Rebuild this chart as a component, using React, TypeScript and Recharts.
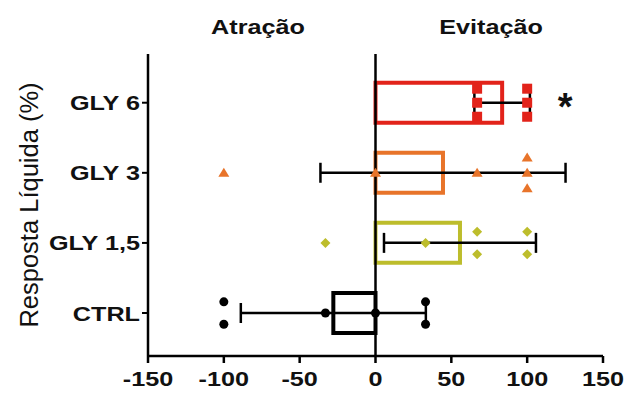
import React from "react";
import {
  ComposedChart,
  Bar,
  Cell,
  ErrorBar,
  Scatter,
  XAxis,
  YAxis,
  ReferenceLine,
  ReferenceDot,
} from "recharts";

// groups, top to bottom
const categories = ["GLY 6", "GLY 3", "GLY 1,5", "CTRL"];
const colors = ["#e2231a", "#e8742a", "#bdbd2c", "#000000"];
const means = [83.5, 44.5, 55.7, -27.8];
const sds = [18.3, 80.8, 50.1, 61.0];

// individual responses (%) and their vertical jitter within the row
const gly6Values = [67, 67, 67, 100, 100, 100];
const gly6Jitter = [-0.2, 0, 0.2, -0.2, 0, 0.2];
const gly3Values = [-100, 0, 67, 100, 100, 100];
const gly3Jitter = [0, 0, 0, -0.22, 0, 0.22];
const gly15Values = [-33, 33, 67, 67, 100, 100];
const gly15Jitter = [0, 0, -0.16, 0.16, -0.16, 0.16];
const ctrlValues = [-100, -100, -33, 0, 33, 33];
const ctrlJitter = [-0.16, 0.16, 0, 0, -0.16, 0.16];

const xTicks = [-150, -100, -50, 0, 50, 100, 150];
const rowDomain = [-0.695, 3.613];

const barData = categories.map((c, i) => ({ pos: i, mean: means[i], sd: sds[i] }));
const points = (vals: number[], jit: number[], row: number) =>
  vals.map((v, j) => ({ pos: row + jit[j], value: v }));

const FONT = '"Liberation Sans", Arial, sans-serif';
const SX = 1.2; // reference text looks a bit wide

const stretch = (x: number, y: number) =>
  `translate(${x},${y}) scale(${SX},1) translate(${-x},${-y})`;

const XTick = ({ x, y, payload }: any) => (
  <text
    x={x}
    y={y + 21}
    textAnchor="middle"
    fontFamily={FONT}
    fontWeight="bold"
    fontSize={21}
    fill="#111"
    transform={stretch(x, y)}
  >
    {payload.value}
  </text>
);

const YTick = ({ x, y, payload }: any) => (
  <text
    x={x}
    y={y + 7.5}
    textAnchor="end"
    fontFamily={FONT}
    fontWeight="bold"
    fontSize={21}
    fill="#111"
    transform={stretch(x, y)}
  >
    {categories[payload.value]}
  </text>
);

const square = (color: string) => (p: any) => (
  <rect x={p.cx - 5} y={p.cy - 5} width={10} height={10} fill={color} />
);
const triangle = (color: string) => (p: any) => (
  <polygon
    points={`${p.cx},${p.cy - 5} ${p.cx + 5.5},${p.cy + 4} ${p.cx - 5.5},${p.cy + 4}`}
    fill={color}
  />
);
const diamond = (color: string) => (p: any) => (
  <polygon
    points={`${p.cx},${p.cy - 5} ${p.cx + 5},${p.cy} ${p.cx},${p.cy + 5} ${p.cx - 5},${p.cy}`}
    fill={color}
  />
);
const dot = (color: string) => (p: any) => <circle cx={p.cx} cy={p.cy} r={4.5} fill={color} />;

const Star = ({ viewBox }: any) => (
  <text
    x={viewBox.x}
    y={viewBox.y + 17}
    textAnchor="middle"
    fontFamily={FONT}
    fontWeight="bold"
    fontSize={38}
    fill="#111"
  >
    *
  </text>
);

const header: React.CSSProperties = {
  position: "absolute",
  top: 15,
  fontFamily: FONT,
  fontWeight: "bold",
  fontSize: 21,
  color: "#111",
  transform: `translateX(-50%) scaleX(${SX})`,
  whiteSpace: "nowrap",
};

export default function App() {
  return (
    <div style={{ position: "absolute", left: 0, top: 0, width: 625, height: 394, background: "#fff" }}>
      <div style={{ ...header, left: 258 }}>Atração</div>
      <div style={{ ...header, left: 491 }}>Evitação</div>
      <div
        style={{
          position: "absolute",
          left: 29,
          top: 205,
          transform: "translate(-50%, -50%) rotate(-90deg)",
          fontFamily: FONT,
          fontSize: 25.5,
          color: "#111",
          whiteSpace: "nowrap",
        }}
      >
        Resposta Líquida (%)
      </div>
      <ComposedChart
        layout="vertical"
        width={625}
        height={394}
        data={barData}
        margin={{ top: 54, right: 22, bottom: 0, left: 0 }}
      >
        <XAxis
          type="number"
          domain={[-150, 150]}
          ticks={xTicks}
          height={38}
          tickSize={7}
          axisLine={{ stroke: "#000", strokeWidth: 2.5 }}
          tickLine={{ stroke: "#000", strokeWidth: 2.5 }}
          tick={<XTick />}
        />
        <YAxis
          yAxisId="bars"
          type="number"
          dataKey="pos"
          domain={rowDomain}
          ticks={[0, 1, 2, 3]}
          width={148}
          tickSize={6}
          allowDataOverflow
          axisLine={{ stroke: "#000", strokeWidth: 2.5 }}
          tickLine={{ stroke: "#000", strokeWidth: 2 }}
          tick={<YTick />}
        />
        <YAxis yAxisId="pts" type="number" dataKey="pos" domain={rowDomain} allowDataOverflow hide />
        <ReferenceLine yAxisId="bars" x={0} stroke="#000" strokeWidth={2.5} />
        <Scatter yAxisId="pts" data={points(gly6Values, gly6Jitter, 0)} dataKey="value" shape={square(colors[0])} isAnimationActive={false} />
        <Scatter yAxisId="pts" data={points(gly3Values, gly3Jitter, 1)} dataKey="value" shape={triangle(colors[1])} isAnimationActive={false} />
        <Scatter yAxisId="pts" data={points(gly15Values, gly15Jitter, 2)} dataKey="value" shape={diamond(colors[2])} isAnimationActive={false} />
        <Scatter yAxisId="pts" data={points(ctrlValues, ctrlJitter, 3)} dataKey="value" shape={dot(colors[3])} isAnimationActive={false} />
        <Bar yAxisId="bars" dataKey="mean" barSize={40} fill="none" strokeWidth={4} isAnimationActive={false}>
          {barData.map((d, i) => (
            <Cell key={d.pos} stroke={colors[i]} fill="none" />
          ))}
          <ErrorBar dataKey="sd" direction="x" width={10} stroke="#000" strokeWidth={2.5} />
        </Bar>
        <ReferenceDot yAxisId="pts" x={125} y={0} r={0} fill="none" stroke="none" label={<Star />} />
      </ComposedChart>
    </div>
  );
}
